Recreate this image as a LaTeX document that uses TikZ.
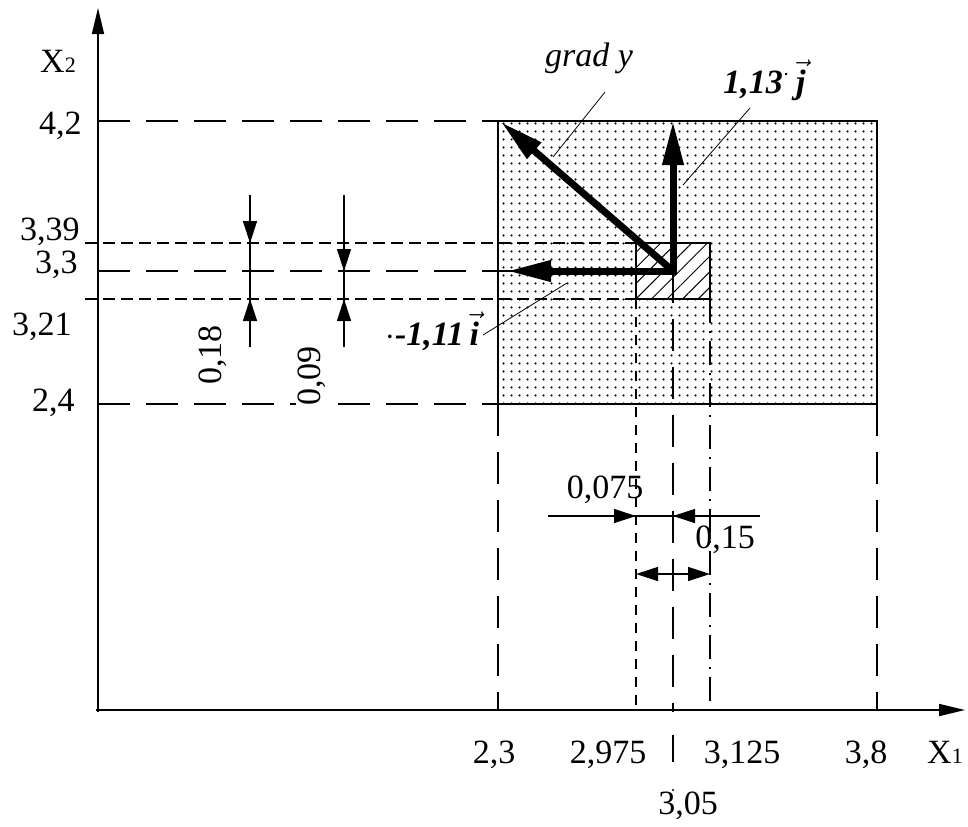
\documentclass[tikz,border=0pt]{standalone}
\usepackage{fontspec}
\setmainfont{Liberation Serif}
\usetikzlibrary{arrows.meta,patterns.meta}

\tikzset{
  axisline/.style={line width=0.8pt, -{Triangle[length=13pt,width=6pt]}},
  longdash/.style={line width=0.6pt, dash pattern=on 16pt off 8pt},
  shortdash/.style={line width=0.6pt, dash pattern=on 6pt off 3pt},
  middash/.style={line width=0.6pt, dash pattern=on 5pt off 4pt},
  dashdot/.style={line width=0.6pt, dash pattern=on 12pt off 4pt on 1pt off 4pt},
  dimline/.style={line width=0.6pt},
  dimtip/.style={line width=0.6pt, -{Triangle[length=11pt,width=7pt]}},
  vecline/.style={line width=3.5pt, line join=miter, -{Triangle[length=22pt,width=10pt]}},
  vecboth/.style={line width=3.5pt, line join=miter, {Triangle[length=22pt,width=10pt]}-{Triangle[length=22pt,width=10pt]}},
  leader/.style={line width=0.4pt},
  lbl/.style={font=\fontsize{17}{20}\selectfont, inner sep=0pt},
  vlbl/.style={font=\fontsize{17}{20}\selectfont\bfseries\itshape, inner sep=0pt},
}

\begin{document}
\begin{tikzpicture}[x=0.5pt,y=-0.5pt]
\useasboundingbox (0,0) rectangle (968,826);
% dotted domain and hatched cell
\fill[pattern={Dots[radius=0.65pt,distance=4pt]}] (498,121) rectangle (877,404);
\draw[line width=0.8pt] (498,121) rectangle (877,404);
\fill[white] (636,243) rectangle (710,299);
\fill[pattern={Lines[angle=45,distance=5.5pt,line width=0.5pt]}] (636,243) rectangle (710,299);
\draw[line width=0.6pt] (636,243) rectangle (710,299);
% axes
\draw[axisline] (98,712) -- (98,8);
\draw[axisline] (96,710) -- (965,710);
% level lines
\draw[longdash] (98,121) -- (498,121);
\draw[shortdash] (85,243) -- (710,243);
\draw[longdash] (98,271) -- (673,271);
\draw[shortdash] (85,299) -- (710,299);
\draw[longdash] (98,404) -- (498,404);
\draw[longdash] (498,404) -- (498,710);
\draw[middash] (636,299) -- (636,710);
\draw[longdash] (673,271) -- (673,712);
\draw[line width=0.6pt] (673,735) -- (673,762);
\fill (673,790) circle (0.6pt);
\draw[dashdot] (710,299) -- (710,710);
\draw[longdash] (877,404) -- (877,710);
% vectors
\coordinate (C) at (673,271);
\coordinate (gtip) at (501,122);
\coordinate (itip) at (507,271);
\coordinate (jtip) at (673,121);
\draw[vecboth] (itip) -- (C) -- (jtip);
\draw[vecline] (C) -- (gtip);
% vertical dimensions
\draw[dimline] (250,195) -- (250,347);
\draw[dimtip] (250,200) -- (250,243);
\draw[dimtip] (250,345) -- (250,299);
\draw[dimline] (344,195) -- (344,347);
\draw[dimtip] (344,225) -- (344,271);
\draw[dimtip] (344,345) -- (344,299);
\node[lbl, rotate=90] (d18) at (213,355) {0,18};
\node[lbl, rotate=90, fill=white, inner sep=1pt] (d09) at (312,376) {0,09};
% horizontal dimensions
\draw[dimline] (548,516) -- (760,516);
\draw[dimtip] (560,516) -- (636,516);
\draw[dimtip] (740,516) -- (673,516);
\draw[dimtip] (673,574) -- (636,574);
\draw[dimtip] (673,574) -- (710,574);
\draw[dimline] (673,562) -- (673,586);
\node[lbl, anchor=base] (d075) at (605,498) {0,075};
\node[lbl, anchor=base] (d15) at (725,548) {0,15};
% axis labels
\node[lbl] (x2) at (58,61) {X{\fontsize{11}{12}\selectfont 2}};
\node[lbl, anchor=base east] (y42) at (82,134) {4,2};
\node[lbl, anchor=base east] (y339) at (80,240) {3,39};
\node[lbl, anchor=base east] (y33) at (78,273) {3,3};
\node[lbl, anchor=base east] (y321) at (72,335) {3,21};
\node[lbl, anchor=base east] (y24) at (75,411) {2,4};
\node[lbl, anchor=base] (x23) at (494,763) {2,3};
\node[lbl, anchor=base] (x2975) at (608,763) {2,975};
\node[lbl, anchor=base] (x3125) at (742,763) {3,125};
\node[lbl, anchor=base] (x38) at (866,763) {3,8};
\node[lbl, anchor=base] (x1) at (945,763) {X{\fontsize{11}{12}\selectfont 1}};
\node[lbl, anchor=base] (x305) at (688,814) {3,05};
% vector labels
\node[lbl, anchor=base, font=\fontsize{17}{20}\selectfont\itshape] (grad) at (589,66) {grad y};
\node[vlbl, anchor=base west] (jlbl) at (723,93) {1,13$^{\cdot}$\,$\vec{\textbf{\textit{j}}}$};
\node[vlbl, anchor=base west] (ilbl) at (385,345) {$\cdot$-1,11\,$\vec{\textbf{\textit{i}}}$};
\draw[leader] (605,92) -- (553,157);
\draw[leader] (750,108) -- (683,185);
\draw[leader] (483,335) -- (567,283);
\end{tikzpicture}
\end{document}
